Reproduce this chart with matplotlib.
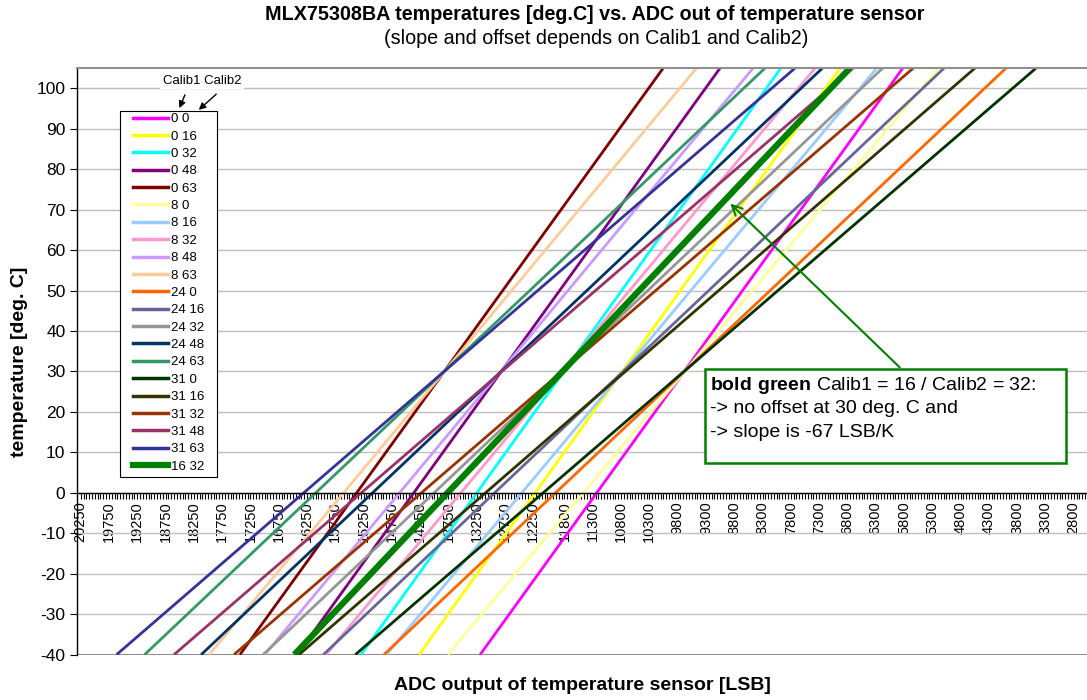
import numpy as np
import matplotlib.pyplot as plt
from matplotlib.lines import Line2D
from matplotlib.patches import Rectangle

plt.rcParams['font.family'] = ['Liberation Sans', 'DejaVu Sans']
plt.rcParams['mathtext.fontset'] = 'custom'
plt.rcParams['mathtext.rm'] = 'Liberation Sans'
plt.rcParams['mathtext.bf'] = 'Liberation Sans:bold'
plt.rcParams['axes.unicode_minus'] = False

# series: "Calib1 Calib2"
names = ['0 0', '0 16', '0 32', '0 48', '0 63',
         '8 0', '8 16', '8 32', '8 48', '8 63',
         '24 0', '24 16', '24 32', '24 48', '24 63',
         '31 0', '31 16', '31 32', '31 48', '31 63',
         '16 32']
colors = ['#FF00FF', '#FFFF00', '#00FFFF', '#800080', '#800000',
          '#FFFF99', '#99CCFF', '#FF99CC', '#CC99FF', '#FFCC99',
          '#FF6600', '#666699', '#969696', '#003366', '#339966',
          '#003300', '#333300', '#993300', '#993366', '#333399',
          '#008000']

# category index on the ADC axis where each curve is at -40 deg.C and at 105 deg.C
idx_cold = [141.2, 119.6, 99.1, 76.5, 56.3,
            129.8, 108.1, 86.7, 65.1, 45.4,
            107.2, 85.8, 64.5, 42.6, 22.6,
            97.1, 77.2, 54.2, 33.0, 12.7,
            75.5]
idx_hot = [290.6, 268.4, 247.5, 226.0, 205.9,
           303.2, 281.4, 259.6, 237.7, 217.7,
           327.1, 305.2, 283.5, 262.2, 241.9,
           337.7, 316.1, 294.3, 273.0, 252.5,
           271.9]
temp_ends = [-40, 105]

# ADC category labels (every 10th sample shown)
x_labels = ['20250', '19750', '19250', '18750', '18250', '17750', '17250', '16750',
            '16250', '15750', '15250', '14750', '14250', '13750', '13250', '12750',
            '12250', '11800', '11300', '10800', '10300', '9800', '9300', '8800',
            '8300', '7800', '7300', '6800', '6300', '5800', '5300', '4800',
            '4300', '3800', '3300', '2800']
x_label_idx = list(range(0, 161, 10)) + list(range(171, 352, 10))

W, H = 1087, 700

def fpx(x, y):
  '''image pixel (from top-left) -> figure fraction'''
  return (x / W, 1 - y / H)

fig = plt.figure(figsize=(W / 100, H / 100), dpi=100)
ax = fig.add_axes([77.3 / W, (H - 654.6) / H, 1 - 77.3 / W, (654.6 - 68.1) / H])

for name, col, c0, c1 in zip(names, colors, idx_cold, idx_hot):
  lw = 4.5 if name == '16 32' else 2.0
  ax.plot([c0, c1], temp_ends, color=col, lw=lw, solid_capstyle='butt')

ax.set_xlim(-1.2, 355.7)
ax.set_ylim(-40, 105)

# axes look
ax.set_yticks(range(-40, 101, 10))
ax.yaxis.grid(True, color='#C0C0C0', lw=1)
ax.set_axisbelow(True)
ax.axhline(-40, color='#909090', lw=1.5, zorder=1)
ax.spines['top'].set_color('#909090')
ax.spines['top'].set_linewidth(1.5)
ax.spines['right'].set_visible(False)
ax.spines['bottom'].set_position(('data', 0))
ax.spines['left'].set_linewidth(1.0)
ax.spines['bottom'].set_linewidth(1.0)

ax.set_xticks(x_label_idx)
ax.set_xticklabels(x_labels, rotation=90, fontsize=10.5)
ax.set_xticks(np.arange(0, 356), minor=True)
ax.tick_params(axis='x', which='both', direction='out', length=4, width=0.8, pad=2)
ax.tick_params(axis='y', direction='out', length=5, labelsize=12.5)

# legend: frame drawn separately so the padding matches
ax.add_patch(Rectangle(fpx(120, 476.7), (216.7 - 120) / W, (476.7 - 110.7) / H,
                       transform=fig.transFigure, facecolor='white', edgecolor='black',
                       lw=0.8, zorder=4.9))
handles = [Line2D([], [], color=c, lw=(4.5 if n == '16 32' else 2.5)) for n, c in zip(names, colors)]
leg = ax.legend(handles, names, loc='upper left',
                bbox_to_anchor=fpx(133, 112.9), bbox_transform=fig.transFigure,
                borderaxespad=0, borderpad=0, fontsize=9.5, handlelength=2.65,
                handletextpad=0.23, labelspacing=0.39, frameon=False)

# Calib1 / Calib2 hint
fig.text(*fpx(202, 80.7), 'Calib1 Calib2', fontsize=9.5, ha='center', va='center',
         bbox=dict(facecolor='white', edgecolor='none', pad=2))
for (x0, y0), (x1, y1) in [((186, 92.3), (178.3, 110.7)), ((218.3, 92.3), (196.7, 111.7))]:
  ax.annotate('', xy=fpx(x1, y1), xycoords='figure fraction', xytext=fpx(x0, y0),
              textcoords='figure fraction',
              arrowprops=dict(arrowstyle='-|>', color='black', lw=1, mutation_scale=10))

# note box
bx0, by0, bx1, by1 = 705, 369.3, 1066, 462.7
fig.patches.append(Rectangle(fpx(bx0, by1), (bx1 - bx0) / W, (by1 - by0) / H,
                             transform=fig.transFigure, facecolor='white',
                             edgecolor='#008000', lw=1.8, zorder=5))
note = [r'$\bf{bold\ green}$ Calib1 = 16 / Calib2 = 32:',
        '-> no offset at 30 deg. C and',
        '-> slope is -67 LSB/K']
for i, line in enumerate(note):
  fig.text(*fpx(710, 385 + i * 23.6), line, fontsize=14, ha='left', va='center', zorder=6)
ax.annotate('', xy=fpx(728.3, 201.7), xycoords='figure fraction', xytext=fpx(901.7, 369.3),
            textcoords='figure fraction',
            arrowprops=dict(arrowstyle='->', color='#008000', lw=1.5, mutation_scale=18))

# titles
fig.text(*fpx(595, 15), 'MLX75308BA temperatures [deg.C] vs. ADC out of temperature sensor',
         fontsize=14.2, fontweight='bold', ha='center', va='center')
fig.text(*fpx(596, 38), '(slope and offset depends on Calib1 and Calib2)',
         fontsize=14.2, ha='center', va='center')
fig.text(*fpx(582, 686), 'ADC output of temperature sensor [LSB]',
         fontsize=14, fontweight='bold', ha='center', va='center')
fig.text(*fpx(20, 362), 'temperature [deg. C]', fontsize=14, fontweight='bold',
         ha='center', va='center', rotation=90)

fig.savefig('out.png', dpi=100)
